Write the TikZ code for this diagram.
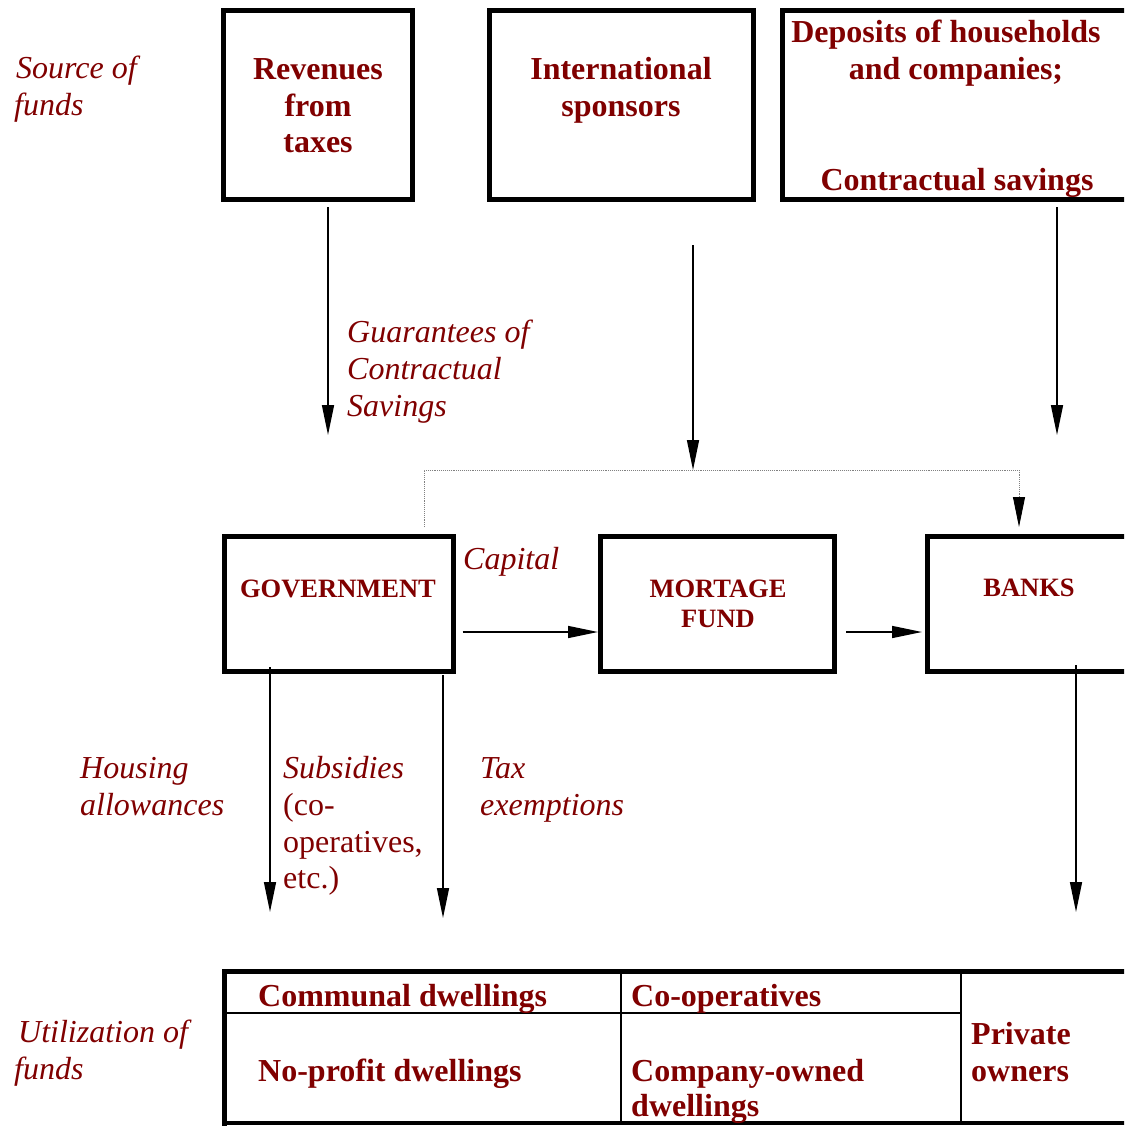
\documentclass[tikz,border=0pt]{standalone}
\usepackage{fontspec}
\setmainfont{Liberation Serif}
\usetikzlibrary{arrows.meta}
\definecolor{fundred}{RGB}{128,0,0}
\tikzset{
  frame/.style={draw, line width=5pt, rectangle, inner sep=0pt},
  boxtxt/.style={font=\fontsize{32}{37}\selectfont\bfseries, text=fundred, inner sep=0pt, anchor=base},
  midtxt/.style={font=\fontsize{26.5}{30}\selectfont\bfseries, text=fundred, inner sep=0pt, anchor=base},
  tbltxt/.style={font=\fontsize{32}{37}\selectfont\bfseries, text=fundred, inner sep=0pt, anchor=base west},
  lbl/.style={font=\fontsize{32}{37}\selectfont\itshape, text=fundred, inner sep=0pt, anchor=base west},
  plaintxt/.style={font=\fontsize{32}{37}\selectfont, text=fundred, inner sep=0pt, anchor=base west},
  arr/.style={line width=1.5pt, -{Triangle[length=30pt,width=12pt]}},
  dotline/.style={draw=gray, line width=0.9pt, densely dotted, -{Triangle[length=30pt,width=12pt,black]}},
  thickrule/.style={line width=5pt},
  thinrule/.style={line width=2pt},
}
\begin{document}
\begin{tikzpicture}[x=1pt,y=-1pt]
\useasboundingbox (0,0) rectangle (1124,1126);
\clip (0,0) rectangle (1124,1126);

% top boxes
\node[frame, minimum width=189pt, minimum height=188pt] (rev) at (317.5,105) {};
\node[frame, minimum width=264pt, minimum height=188pt] (spon) at (621.5,105) {};
\node[frame, minimum width=352.5pt, minimum height=188pt] (dep) at (958.75,105) {};

\node[boxtxt] (rev1) at (318,80) {Revenues};
\node[boxtxt] (rev2) at (318,117) {from};
\node[boxtxt] (rev3) at (318,153) {taxes};
\node[boxtxt] (spon1) at (621,80) {International};
\node[boxtxt] (spon2) at (621,117) {sponsors};
\node[boxtxt] (dep1) at (946,43) {Deposits of households};
\node[boxtxt] (dep2) at (956,80) {and companies;};
\node[boxtxt] (dep3) at (957,190) {Contractual savings};

% left labels
\node[lbl] (src1) at (16,79) {Source of};
\node[lbl] (src2) at (14,116) {funds};
\node[lbl] (gua1) at (347,342) {Guarantees of};
\node[lbl] (gua2) at (347,379) {Contractual};
\node[lbl] (gua3) at (347,416) {Savings};

% middle boxes
\node[frame, minimum width=229pt, minimum height=135pt] (gov) at (338.5,604) {};
\node[frame, minimum width=234pt, minimum height=135pt] (mort) at (717.5,604) {};
\node[frame, minimum width=207.5pt, minimum height=135pt] (banks) at (1031.25,604) {};

\node[midtxt] (govt) at (338,597) {GOVERNMENT};
\node[midtxt] (mort1) at (718,597) {MORTAGE};
\node[midtxt] (mort2) at (718,627) {FUND};
\node[midtxt] (bankst) at (1029,596) {BANKS};
\node[lbl] (cap) at (463,569) {Capital};

% free end points
\coordinate (g1) at (328,435);
\coordinate (c1) at (693,470);
\coordinate (d1) at (1057,435);
\coordinate (h1) at (270,912);
\coordinate (t1) at (443,918);
\coordinate (b1) at (1076,912);

% connectors
\draw[arr] ([xshift=10.5pt,yshift=-5.5pt]rev.south) -- (g1);
\draw[arr] ([xshift=71.5pt,yshift=-43.5pt]spon.south) -- (c1);
\draw[arr] ([xshift=98.25pt,yshift=-5.5pt]dep.south) -- (d1);
\draw[dotline] ([xshift=85.5pt,yshift=7pt]gov.north) |- (c1) -| ([xshift=-12.25pt,yshift=7pt]banks.north);
\draw[arr] ([xshift=7pt,yshift=-28pt]gov.east) -- ([yshift=-28pt]mort.west);
\draw[arr] ([xshift=9pt,yshift=-28pt]mort.east) -- ([xshift=-3pt,yshift=-28pt]banks.west);
\draw[arr] ([xshift=-68.5pt,yshift=7pt]gov.south) -- (h1);
\draw[arr] ([xshift=104.5pt,yshift=-1pt]gov.south) -- (t1);
\draw[arr] ([xshift=44.75pt,yshift=9pt]banks.south) -- (b1);

% lower labels
\node[lbl] (hou1) at (80,778) {Housing};
\node[lbl] (hou2) at (80,815) {allowances};
\node[lbl] (sub1) at (283,778) {Subsidies};
\node[plaintxt] (sub2) at (283,815) {(co-};
\node[plaintxt] (sub3) at (283,852) {operatives,};
\node[plaintxt] (sub4) at (283,888) {etc.)};
\node[lbl] (tax1) at (480,778) {Tax};
\node[lbl] (tax2) at (480,815) {exemptions};

% bottom table
\draw[thickrule] (222,971) -- (1130,971);
\draw[thickrule] (224,969) -- (224,1130);
\draw[line width=4pt] (222,1123) -- (1130,1123);
\draw[thinrule] (226,1013) -- (961,1013);
\draw[thinrule] (621,973) -- (621,1123);
\draw[thinrule] (961,973) -- (961,1123);

\node[tbltxt] (cd) at (258,1006) {Communal dwellings};
\node[tbltxt] (co) at (631,1006) {Co-operatives};
\node[tbltxt] (np) at (258,1081) {No-profit dwellings};
\node[tbltxt] (cw1) at (631,1081) {Company-owned};
\node[tbltxt] (cw2) at (631,1116) {dwellings};
\node[tbltxt] (po1) at (971,1044) {Private};
\node[tbltxt] (po2) at (971,1081) {owners};
\node[lbl] (uti1) at (18,1042) {Utilization of};
\node[lbl] (uti2) at (14,1079) {funds};
\end{tikzpicture}
\end{document}
